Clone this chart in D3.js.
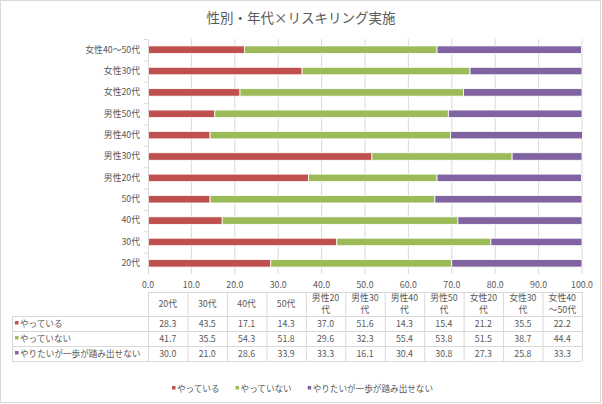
<!DOCTYPE html>
<html>
<head>
<meta charset="utf-8">
<script src="https://cdn.jsdelivr.net/npm/d3@7"></script>
<style>
  body { margin: 0; background: #fff; }
  text { font-family: "Noto Sans CJK JP", "Noto Sans", sans-serif; fill: #595959; }
</style>
</head>
<body>
<div id="chart"></div>
<script>
// data (bottom to top)
var categories = ["20代", "30代", "40代", "50代", "男性20代", "男性30代", "男性40代", "男性50代", "女性20代", "女性30代", "女性40〜50代"];
var seriesNames = ["やっている", "やっていない", "やりたいが一歩が踏み出せない"];
var doing    = [28.3, 43.5, 17.1, 14.3, 37.0, 51.6, 14.3, 15.4, 21.2, 35.5, 22.2];
var notDoing = [41.7, 35.5, 54.3, 51.8, 29.6, 32.3, 55.4, 53.8, 51.5, 38.7, 44.4];
var wantTo   = [30.0, 21.0, 28.6, 33.9, 33.3, 16.1, 30.4, 30.8, 27.3, 25.8, 33.3];
var xTicks = [0, 10, 20, 30, 40, 50, 60, 70, 80, 90, 100];
var colors = ["#C0504D", "#9BBB59", "#8064A2"];

var W = 602, H = 404;
var svg = d3.select("#chart").append("svg")
    .attr("width", W)
    .attr("height", H);

// outer frame
svg.append("rect")
    .attr("x", 0.5).attr("y", 0.5)
    .attr("width", W - 2).attr("height", H - 2)
    .attr("fill", "#fff")
    .attr("stroke", "#D9D9D9");

// title
svg.append("text")
    .attr("x", 301).attr("y", 23)
    .attr("text-anchor", "middle")
    .style("font-size", "13.5px")
    .text("性別・年代×リスキリング実施");

var x = d3.scaleLinear().domain([0, 100]).range([148, 582]);
var y = d3.scaleBand().domain(categories).range([274, 39]);

var rows = categories.map(function (c, i) {
    return { cat: c, s0: doing[i], s1: notDoing[i], s2: wantTo[i] };
});
var stacked = d3.stack().keys(["s0", "s1", "s2"])(rows);

// gridlines
svg.append("g")
    .selectAll("line")
    .data(xTicks.slice(1))
    .enter().append("line")
    .attr("x1", function (d) { return x(d); })
    .attr("x2", function (d) { return x(d); })
    .attr("y1", y.range()[1])
    .attr("y2", y.range()[0])
    .attr("stroke", "#D9D9D9")
    .attr("stroke-width", 1);

// bars
var barH = 7.5;
svg.append("g")
    .selectAll("g")
    .data(stacked)
    .enter().append("g")
    .attr("fill", function (d, i) { return colors[i]; })
    .selectAll("rect")
    .data(function (d) { return d; })
    .enter().append("rect")
    .attr("x", function (d) { return x(d[0]); })
    .attr("width", function (d) { return x(d[1]) - x(d[0]); })
    .attr("y", function (d) { return y(d.data.cat) + y.bandwidth() / 2 - barH / 2; })
    .attr("height", barH)
    .attr("stroke", "#fff")
    .attr("stroke-width", 0.8);

// y axis
var yAxis = svg.append("g")
    .attr("transform", "translate(148,0)")
    .call(d3.axisLeft(y).tickSize(0).tickPadding(8));
yAxis.select(".domain").attr("stroke", "#D9D9D9");
yAxis.selectAll("text").style("font-size", "8.8px").attr("fill", "#595959");
// tick marks between categories
yAxis.selectAll(".sep")
    .data(categories)
    .enter().append("line")
    .attr("x1", -4).attr("x2", 0)
    .attr("y1", function (d) { return y(d) + 0.5; })
    .attr("y2", function (d) { return y(d) + 0.5; })
    .attr("stroke", "#D9D9D9");

// x tick labels
svg.append("g")
    .selectAll("text")
    .data(xTicks)
    .enter().append("text")
    .attr("x", function (d) { return x(d); })
    .attr("y", 288)
    .attr("text-anchor", "middle")
    .style("font-size", "8.8px")
    .text(function (d) { return d.toFixed(1); });

// data table
var col = d3.scaleBand().domain(categories).range([148, 582]);
var tTop = 292, hdrBottom = 316, rowH = 15, labelLeft = 12;
var grid = svg.append("g").attr("stroke", "#D9D9D9").attr("stroke-width", 1);
// header
grid.append("line").attr("x1", 148).attr("x2", 582).attr("y1", tTop + 0.5).attr("y2", tTop + 0.5);
// row lines
[0, 1, 2, 3].forEach(function (r) {
    var yy = hdrBottom + r * rowH + 0.5;
    grid.append("line").attr("x1", labelLeft).attr("x2", 582).attr("y1", yy).attr("y2", yy);
});
// vertical lines
categories.concat(["end"]).forEach(function (c, i) {
    var xx = (i < categories.length ? col(c) : 582) + 0.5;
    grid.append("line").attr("x1", xx).attr("x2", xx).attr("y1", tTop).attr("y2", hdrBottom + 3 * rowH);
});
grid.append("line").attr("x1", labelLeft + 0.5).attr("x2", labelLeft + 0.5)
    .attr("y1", hdrBottom).attr("y2", hdrBottom + 3 * rowH);

// header text, wrapped like the picture
var hdr = svg.append("g");
categories.forEach(function (c) {
    var cx = col(c) + col.bandwidth() / 2;
    var lines = c.length > 4 ? [c.slice(0, 4), c.slice(4)] : [c];
    var t = hdr.append("text")
        .attr("x", cx)
        .attr("text-anchor", "middle")
        .style("font-size", "8.8px");
    if (lines.length === 1) {
        t.attr("y", 307).text(lines[0]);
    } else {
        t.attr("y", 301).text(lines[0]);
        hdr.append("text").attr("x", cx).attr("y", 313)
            .attr("text-anchor", "middle").style("font-size", "8.8px").text(lines[1]);
    }
});

// table rows
var seriesVals = [doing, notDoing, wantTo];
seriesVals.forEach(function (vals, r) {
    var cy = hdrBottom + r * rowH + rowH / 2 + 3.5;
    svg.append("rect")
        .attr("x", 15).attr("y", cy - 6)
        .attr("width", 3.5).attr("height", 3.5)
        .attr("fill", colors[r]);
    svg.append("text")
        .attr("x", 20).attr("y", cy)
        .style("font-size", "8.6px")
        .text(seriesNames[r]);
    svg.append("g").selectAll("text")
        .data(vals)
        .enter().append("text")
        .attr("x", function (d, i) { return col(categories[i]) + col.bandwidth() / 2; })
        .attr("y", cy)
        .attr("text-anchor", "middle")
        .style("font-size", "8.8px")
        .text(function (d) { return d.toFixed(1); });
});

// legend
var legend = svg.append("g");
var lx = 172;
seriesNames.forEach(function (name, i) {
    legend.append("rect")
        .attr("x", lx).attr("y", 386)
        .attr("width", 3.5).attr("height", 3.5)
        .attr("fill", colors[i]);
    var t = legend.append("text")
        .attr("x", lx + 5).attr("y", 392)
        .style("font-size", "8.6px")
        .text(name);
    lx += 5 + t.node().getComputedTextLength() + 16;
});
</script>
</body>
</html>
